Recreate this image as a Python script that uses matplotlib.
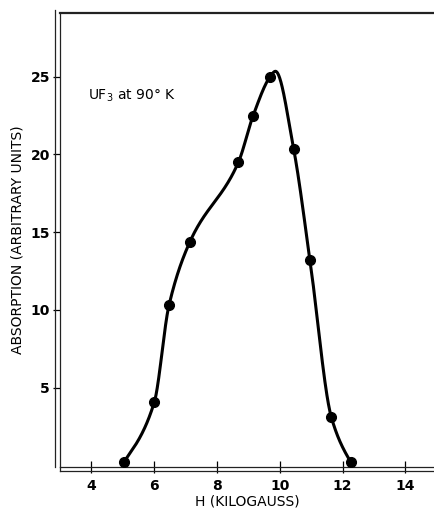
import numpy as np
import matplotlib
matplotlib.use("Agg")
import matplotlib.pyplot as plt
from matplotlib.lines import Line2D

# measured points (H in kilogauss, absorption in arbitrary units)
h_points = [5.03, 6.0, 6.47, 7.14, 8.68, 9.15, 9.68, 10.44, 10.96, 11.64, 12.25]
abs_points = [0.2, 4.05, 10.3, 14.4, 19.5, 22.5, 24.97, 20.35, 13.19, 3.1, 0.24]

# peak of the hand-drawn curve
peak_h = 9.86
peak_abs = 25.35
# slopes of the drawn curve where it starts and ends (at the end markers)
start_slope = 3.0
end_slope = -3.5

x_ticks = [4, 6, 8, 10, 12, 14]
y_ticks = [5, 10, 15, 20, 25]


def pchip(x, y, xx, d_first=None, d_last=None):
    '''monotone cubic (Fritsch-Carlson) through x, y, evaluated at xx'''
    x = np.asarray(x, float)
    y = np.asarray(y, float)
    n = len(x)
    h = np.diff(x)
    delta = np.diff(y) / h
    d = np.zeros(n)
    for k in range(1, n - 1):
        if delta[k - 1] * delta[k] > 0:
            w1 = 2 * h[k] + h[k - 1]
            w2 = h[k] + 2 * h[k - 1]
            d[k] = (w1 + w2) / (w1 / delta[k - 1] + w2 / delta[k])

    def end(h0, h1, del0, del1):
        dd = ((2 * h0 + h1) * del0 - h0 * del1) / (h0 + h1)
        if np.sign(dd) != np.sign(del0):
            dd = 0.0
        elif np.sign(del0) != np.sign(del1) and abs(dd) > 3 * abs(del0):
            dd = 3 * del0
        return dd

    d[0] = end(h[0], h[1], delta[0], delta[1])
    d[-1] = end(h[-1], h[-2], delta[-1], delta[-2])
    if d_first is not None:
        d[0] = d_first
    if d_last is not None:
        d[-1] = d_last
    k = np.clip(np.searchsorted(x, xx) - 1, 0, n - 2)
    s = (xx - x[k]) / h[k]
    h00 = 2 * s ** 3 - 3 * s ** 2 + 1
    h10 = s ** 3 - 2 * s ** 2 + s
    h01 = -2 * s ** 3 + 3 * s ** 2
    h11 = s ** 3 - s ** 2
    return h00 * y[k] + h10 * h[k] * d[k] + h01 * y[k + 1] + h11 * h[k] * d[k + 1]


# rising and falling branches of the drawn curve, joined at the peak
left_h = h_points[:7] + [peak_h]
left_a = abs_points[:7] + [peak_abs]
right_h = [peak_h] + h_points[7:]
right_a = [peak_abs] + abs_points[7:]
xl = np.linspace(left_h[0], left_h[-1], 400)
xr = np.linspace(right_h[0], right_h[-1], 300)
curve_x = np.concatenate([xl, xr])
curve_y = np.concatenate([
    pchip(left_h, left_a, xl, d_first=start_slope, d_last=0.0),
    pchip(right_h, right_a, xr, d_first=0.0, d_last=end_slope)])

plt.rcParams['font.family'] = ['DejaVu Sans']

W, H = 435, 511
fig = plt.figure(figsize=(W / 100, H / 100), dpi=100)
# axes box in pixels: left 60, right 435, top 13, bottom 467
ax = fig.add_axes([60 / W, 1 - 467 / H, (W - 60) / W, (467 - 13) / H])
ax.set_xlim(3.0, 14.94)
ax.set_ylim(-0.1, 29.1)

ax.plot(curve_x, curve_y, color='black', lw=2.2, solid_capstyle='round', zorder=3)
ax.plot(h_points, abs_points, 'o', color='black', ms=7, zorder=4)

ax.spines['right'].set_visible(False)
ax.spines['top'].set_linewidth(1.6)
ax.spines['left'].set_linewidth(0.9)
ax.spines['bottom'].set_linewidth(0.9)
for s in ax.spines.values():
    s.set_color('#222222')

# doubled frame lines (outer vertical, lower horizontal)
px = 72 / 100
fig.add_artist(Line2D([55 / W, 55 / W], [1 - 10 / H, 1 - 467 / H],
                      color='#222222', lw=0.9))
fig.add_artist(Line2D([60 / W, 1.0], [1 - 471 / H, 1 - 471 / H],
                      color='#222222', lw=0.9))
fig.add_artist(Line2D([60 / W, 60 / W], [1 - 467 / H, 1 - 471 / H],
                      color='#222222', lw=0.9))

ax.set_xticks(x_ticks)
ax.set_xticklabels([str(v) for v in x_ticks], fontweight='bold')
ax.set_yticks(y_ticks)
ax.set_yticklabels([str(v) for v in y_ticks], fontweight='bold')
ax.tick_params(axis='y', direction='out', length=7 * px, width=0.9,
               pad=3 * px, labelsize=10, colors='black')
ax.tick_params(axis='x', direction='inout', length=12 * px, width=0.9,
               pad=6 * px, labelsize=10, colors='black')

ax.set_xlabel('H (KILOGAUSS)', fontsize=10, labelpad=1)
ax.set_ylabel('ABSORPTION (ARBITRARY UNITS)', fontsize=10, labelpad=4)

ax.text(3.89, 23.8, 'UF$_3$ at 90° K', fontsize=10, va='center', ha='left')

fig.savefig('out.png', dpi=100)
